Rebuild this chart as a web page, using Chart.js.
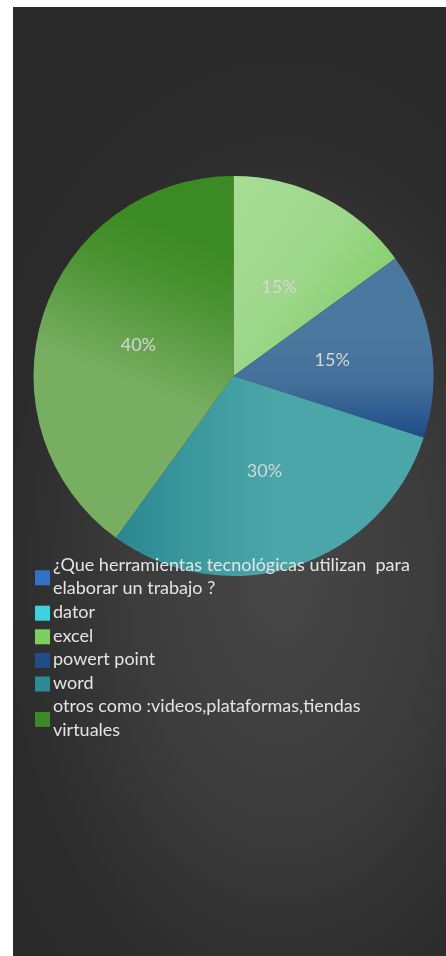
<!DOCTYPE html>
<html><head><meta charset="utf-8">
<script src="https://cdn.jsdelivr.net/npm/chart.js@4.4.1/dist/chart.umd.min.js"></script>
<style>
html,body{margin:0;padding:0;background:#fff;width:446px;height:956px;overflow:hidden}
#wrap{position:absolute;left:13px;top:7px;width:433px;height:949px;
background:radial-gradient(ellipse 75% 55% at 62% 60%, #474747 0%, #3c3c3c 45%, #2c2c2c 85%, #2a2a2a 100%)}
canvas{display:block}
</style></head><body>
<div id="wrap"><canvas id="c" width="433" height="949"></canvas></div>
<script>
// ---- data ----
const categories = [
  "¿Que herramientas tecnológicas utilizan  para elaborar un trabajo ?",
  "dator",
  "excel",
  "powert point",
  "word",
  "otros como :videos,plataformas,tiendas virtuales"
];
const values = [0, 0, 15, 15, 30, 40];
const percentLabels = ["", "", "15%", "15%", "30%", "40%"];

// ---- styles ----
const legendColors = ["#2f72c8", "#3cd3df", "#7ccf60", "#1f4d8a", "#2b8a94", "#3c8a26"];

function sliceFill(ctx) {
  const chart = ctx.chart, i = ctx.dataIndex;
  const a = chart.chartArea;
  if (!a) return legendColors[i];
  const cx = (a.left + a.right) / 2, cy = (a.top + a.bottom) / 2;
  const r = Math.min(a.right - a.left, a.bottom - a.top) / 2;
  const g = chart.ctx;
  let gr;
  if (i === 2) {
    gr = g.createLinearGradient(cx, cy - r, cx + r * 0.85, cy - r * 0.35);
    gr.addColorStop(0, "#a7dc95"); gr.addColorStop(0.55, "#9dd78a"); gr.addColorStop(1, "#7dcb62");
    return gr;
  }
  if (i === 3) {
    gr = g.createLinearGradient(cx, cy - r * 0.2, cx, cy + r * 0.33);
    gr.addColorStop(0, "#4b789f"); gr.addColorStop(0.45, "#42709a"); gr.addColorStop(1, "#1c4886");
    return gr;
  }
  if (i === 4) {
    gr = g.createLinearGradient(cx - r * 0.75, cy, cx + r * 0.2, cy);
    gr.addColorStop(0, "#23808b"); gr.addColorStop(0.55, "#3a979c"); gr.addColorStop(1, "#4aa6a8");
    return gr;
  }
  if (i === 5) {
    gr = g.createLinearGradient(cx - r * 0.05, cy - r * 0.65, cx - r * 0.35, cy + r * 0.1);
    gr.addColorStop(0, "#3c8a23"); gr.addColorStop(0.35, "#4a9232"); gr.addColorStop(1, "#78ae62");
    return gr;
  }
  return legendColors[i];
}

const labelPlugin = {
  id: "pctLabels",
  afterDatasetsDraw(chart) {
    const g = chart.ctx;
    const meta = chart.getDatasetMeta(0);
    g.save();
    g.font = "18px Lato";
    g.fillStyle = "#d6d6d6";
    g.textAlign = "center";
    g.textBaseline = "middle";
    meta.data.forEach((arc, i) => {
      if (!chart.data.datasets[0].data[i]) return;
      const p = arc.tooltipPosition();
      g.fillText(percentLabels[i], p.x, p.y);
    });
    g.restore();
  }
};

const legendPlugin = {
  id: "wrapLegend",
  afterDraw(chart) {
    const g = chart.ctx;
    const x0 = 22, boxW = 15, tx = 40, maxW = 362, lh = 23.6;
    let y = 558;
    g.save();
    g.font = "18px Lato";
    g.textBaseline = "middle";
    chart.data.labels.forEach((lab, i) => {
      const words = lab.split(" ");
      const lines = [];
      let cur = "";
      for (let k = 0; k < words.length; k++) {
        const test = cur === "" ? words[k] : cur + " " + words[k];
        if (cur !== "" && g.measureText(test).width > maxW) { lines.push(cur); cur = words[k]; }
        else cur = test;
      }
      lines.push(cur);
      const mid = y + (lines.length - 1) * lh / 2;
      g.fillStyle = legendColors[i];
      g.fillRect(x0, mid - boxW / 2 + 1, boxW, boxW);
      g.fillStyle = "#e4e4e4";
      lines.forEach((ln, j) => g.fillText(ln, tx, y + j * lh));
      y += lines.length * lh;
    });
    g.restore();
  }
};

new Chart(document.getElementById("c"), {
  type: "pie",
  data: {
    labels: categories,
    datasets: [{
      data: values,
      backgroundColor: sliceFill,
      borderWidth: 0,
      hoverOffset: 0
    }]
  },
  options: {
    responsive: false,
    animation: false,
    layout: { padding: { left: 20.5, right: 12.5, top: 169, bottom: 380 } },
    plugins: { legend: { display: false }, tooltip: { enabled: false } }
  },
  plugins: [labelPlugin, legendPlugin]
});
</script>
</body></html>
